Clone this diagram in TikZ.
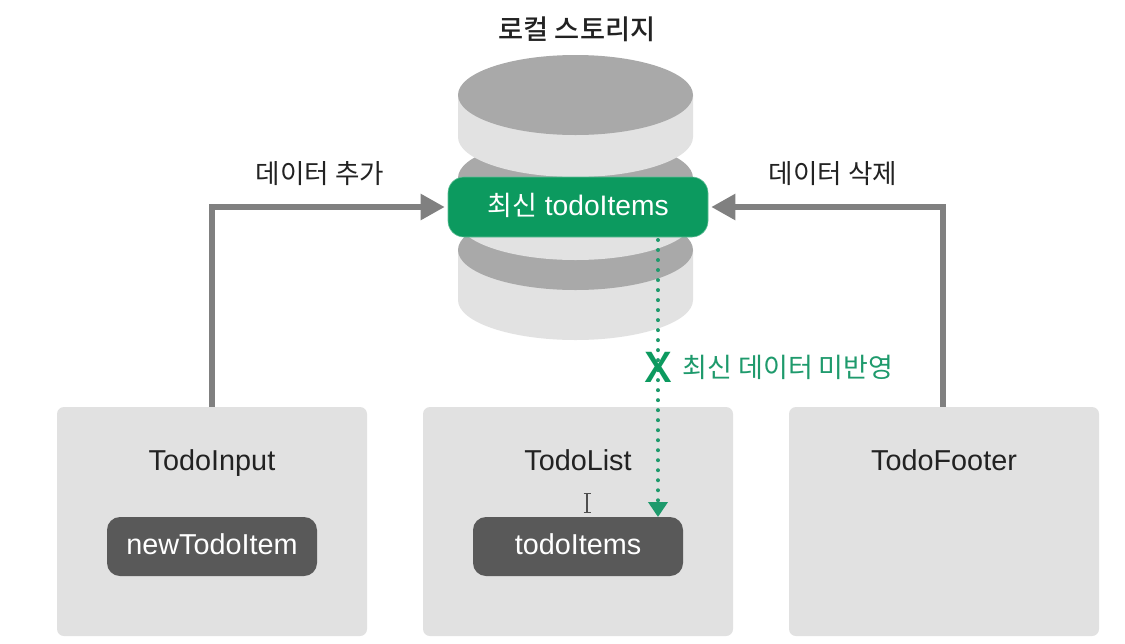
\documentclass[tikz,border=0pt]{standalone}
\usepackage{fontspec}
\setmainfont{Noto Sans CJK KR}
\newfontfamily\krmed{Noto Sans CJK KR Medium}
\newfontfamily\crossf[FakeStretch=1.14]{Noto Sans CJK KR Medium}
\newfontfamily\latinf{Liberation Sans}
\usetikzlibrary{arrows.meta}
\definecolor{disclight}{HTML}{E2E2E2}
\definecolor{discdark}{HTML}{A9A9A9}
\definecolor{panel}{HTML}{E1E1E1}
\definecolor{chip}{HTML}{595959}
\definecolor{brand}{HTML}{0C9A5F}
\definecolor{brandtext}{HTML}{1E9A6C}
\definecolor{flow}{HTML}{808080}
\definecolor{ink}{HTML}{222222}
\tikzset{
  panelbox/.style={fill=panel,rounded corners=7pt,minimum width=310pt,minimum height=229pt,inner sep=0pt},
  chipbox/.style={fill=chip,text=white,rounded corners=13pt,minimum width=210pt,minimum height=59pt,inner sep=0pt,text height=20pt,text depth=4pt,font=\fontsize{28.8}{32}\latinf},
  latest/.style={fill=brand,draw=brand!65!white,line width=.6pt,text=white,rounded corners=16pt,minimum width=260pt,minimum height=60pt,inner sep=0pt,text height=20pt,text depth=3.5pt,font=\fontsize{28.2}{32}\latinf},
  title/.style={text=ink,inner sep=0pt,anchor=base,font=\fontsize{28.8}{32}\latinf},
  krlabel/.style={text=ink,inner sep=0pt,font=\fontsize{26.6}{30}\selectfont},
  flowarrow/.style={draw=flow,line width=5.5pt,-{Triangle[length=24pt,width=25pt]}},
  missing/.style={draw=brandtext,line width=4pt,line cap=round,dash pattern=on 0.01pt off 10pt,-{Triangle[length=15pt,width=19pt,fill=brandtext]}},
  pics/disc/.style={code={
    \fill[disclight] (-117.5,0) -- (-117.5,#1) arc[start angle=180,end angle=360,x radius=117.5,y radius=-40] -- (117.5,0) -- cycle;
    \fill[discdark] (0,0) ellipse[x radius=117.5,y radius=40];
  }}
}
\begin{document}
\begin{tikzpicture}[x=1pt,y=-1pt]
\useasboundingbox (0,0) rectangle (1125,643);
\fill[white] (0,0) rectangle (1125,643);
% discs
\pic at (575.5,250) {disc={50}};
\pic at (575.5,178) {disc={42}};
\pic at (575.5,95) {disc={42}};
% nodes
\node[krlabel,font=\fontsize{27.3}{30}\krmed] (storage) at (577,29) {로컬 스토리지};
\node[latest] (items) at (578,207) {{\fontsize{27}{30}\rmfamily 최신} todoItems};
\node[panelbox] (input) at (212,521.5) {};
\node[panelbox] (list) at (578,521.5) {};
\node[panelbox] (footer) at (944,521.5) {};
\node[title] (inputt) at (212,470) {TodoInput};
\node[title] (listt) at (578,470) {TodoList};
\node[title] (footert) at (944,470) {TodoFooter};
\node[chipbox] (newitem) at (212,546.5) {newTodoItem};
\node[chipbox] (olditem) at (578,546.5) {todoItems};
\node[krlabel] (addl) at (320,174) {데이터 추가};
\node[krlabel] (dell) at (833,174) {데이터 삭제};
\node[krlabel,text=brandtext,font=\fontsize{27}{30}\selectfont] (stale) at (788,367) {최신 데이터 미반영};
% connectors
\draw[flowarrow] (input.north) |- ([xshift=-3pt]items.west);
\draw[flowarrow] ([xshift=-1pt]footer.north) |- ([xshift=3pt]items.east);
\coordinate (gfrom) at (658,240);
\coordinate (gto) at (658,517);
\draw[missing] (gfrom) -- (gto);
\node[text=brand,inner sep=0pt,font=\fontsize{41}{41}\crossf] (cross) at (658.5,367) {X};
% text cursor
\draw[ink!80,line width=1.2pt] (587,494) -- (587,512) (583.5,493.5) -- (590.5,493.5) (583.5,512.5) -- (590.5,512.5);
\end{tikzpicture}
\end{document}
